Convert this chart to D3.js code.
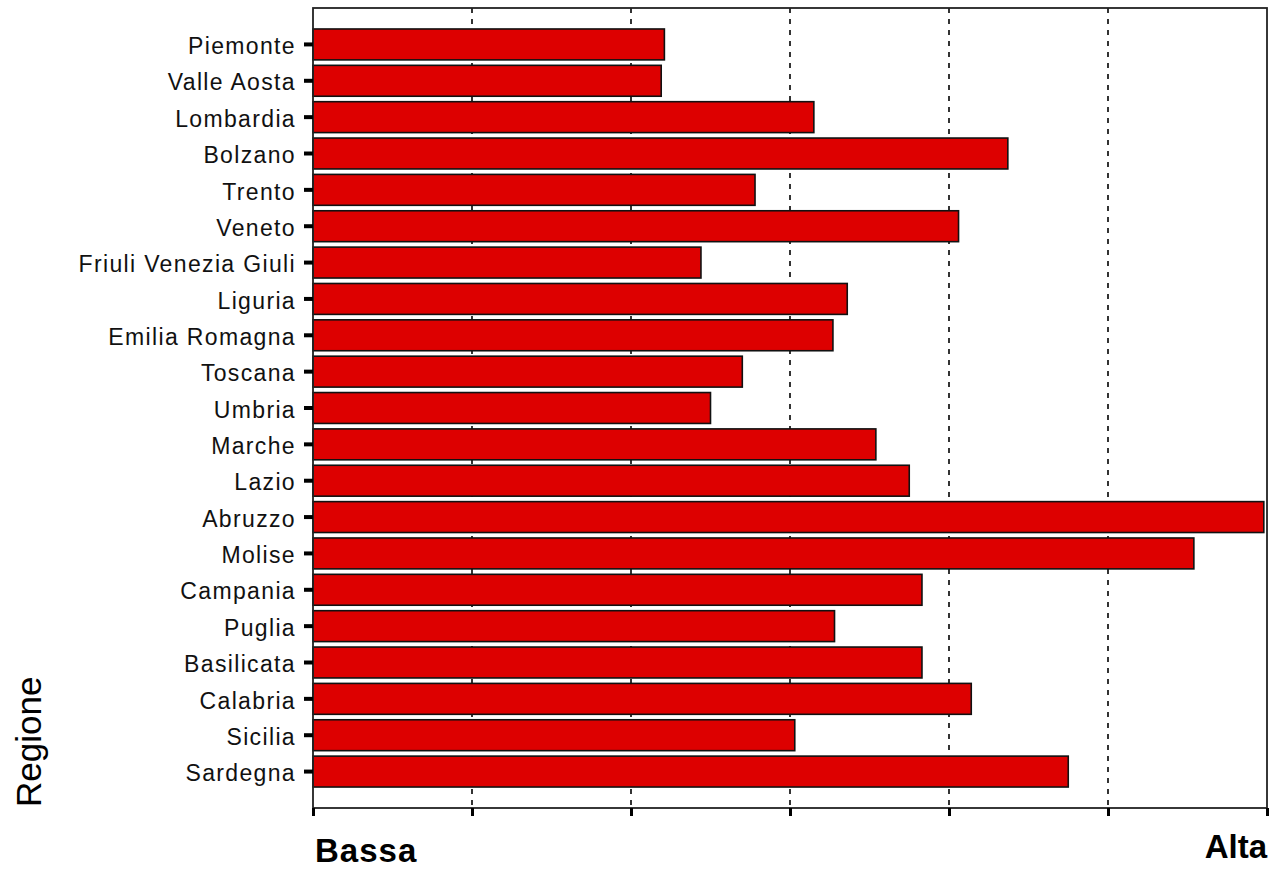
<!DOCTYPE html>
<html>
<head>
<meta charset="utf-8">
<script src="https://cdn.jsdelivr.net/npm/d3@7/dist/d3.min.js"></script>
<style>
  html, body { margin: 0; padding: 0; background: #fff; }
  svg { display: block; }
</style>
</head>
<body>
<svg id="chart" width="1272" height="870"></svg>
<script>
const categories = ["Piemonte","Valle Aosta","Lombardia","Bolzano","Trento","Veneto","Friuli Venezia Giuli","Liguria","Emilia Romagna","Toscana","Umbria","Marche","Lazio","Abruzzo","Molise","Campania","Puglia","Basilicata","Calabria","Sicilia","Sardegna"];
const values = [2.21,2.19,3.15,4.37,2.78,4.06,2.44,3.36,3.27,2.70,2.50,3.54,3.75,5.98,5.54,3.83,3.28,3.83,4.14,3.03,4.75];
const xTicks = [0,1,2,3,4,5,6];
const xEndLabels = ["Bassa","Alta"];
const yTitle = "Regione";

const svg = d3.select("#chart");
const L = 313, T = 8, R = 1267, B = 808;
const font = "'Liberation Sans', Arial, sans-serif";

const x = d3.scaleLinear().domain([0, 6]).range([L, R]);
const y = d3.scaleBand().domain(categories).range([T, B]).paddingInner(0.15).paddingOuter(0.577);

svg.append("rect").attr("width",1272).attr("height",870).attr("fill","#fff");

// gridlines
svg.append("g").selectAll("line").data(xTicks.slice(1, -1)).join("line")
  .attr("x1", d => x(d)).attr("x2", d => x(d))
  .attr("y1", T).attr("y2", B)
  .attr("stroke", "#111").attr("stroke-width", 1.7).attr("stroke-dasharray", "5,6");

// bars
svg.append("g").selectAll("rect").data(categories).join("rect")
  .attr("x", x(0))
  .attr("y", d => y(d))
  .attr("width", (d, i) => x(values[i]) - x(0))
  .attr("height", y.bandwidth())
  .attr("fill", "#dd0000")
  .attr("stroke", "#111").attr("stroke-width", 1.6);

// frame
svg.append("rect").attr("x", L).attr("y", T).attr("width", R - L).attr("height", B - T)
  .attr("fill", "none").attr("stroke", "#222").attr("stroke-width", 1.8);

// y axis
const yAxis = svg.append("g").attr("transform", `translate(${L},0)`)
  .call(d3.axisLeft(y).tickSize(9).tickPadding(8));
yAxis.select(".domain").remove();
yAxis.selectAll(".tick line").attr("stroke", "#000").attr("stroke-width", 4);
yAxis.selectAll(".tick text")
  .attr("font-family", font).attr("font-size", 23).attr("fill", "#111")
  .attr("letter-spacing", "1.35px").attr("dy", "0.42em");

// x axis
const xAxis = svg.append("g").attr("transform", `translate(0,${B})`)
  .call(d3.axisBottom(x).tickValues(xTicks).tickSize(8).tickFormat(""));
xAxis.select(".domain").remove();
xAxis.selectAll(".tick line").attr("stroke", "#000").attr("stroke-width", 3);

// end labels
svg.append("text").attr("x", x(xTicks[0]) + 2).attr("y", 862)
  .attr("font-family", font).attr("font-size", 33).attr("font-weight", "bold")
  .attr("letter-spacing", "1px").attr("fill", "#000").text(xEndLabels[0]);
svg.append("text").attr("x", x(xTicks[xTicks.length - 1])).attr("y", 858)
  .attr("text-anchor", "end")
  .attr("font-family", font).attr("font-size", 33).attr("font-weight", "bold")
  .attr("fill", "#000").text(xEndLabels[1]);

// y title
svg.append("text").attr("transform", "translate(41,807) rotate(-90)")
  .attr("font-family", font).attr("font-size", 35).attr("fill", "#000").text(yTitle);
</script>
</body>
</html>
